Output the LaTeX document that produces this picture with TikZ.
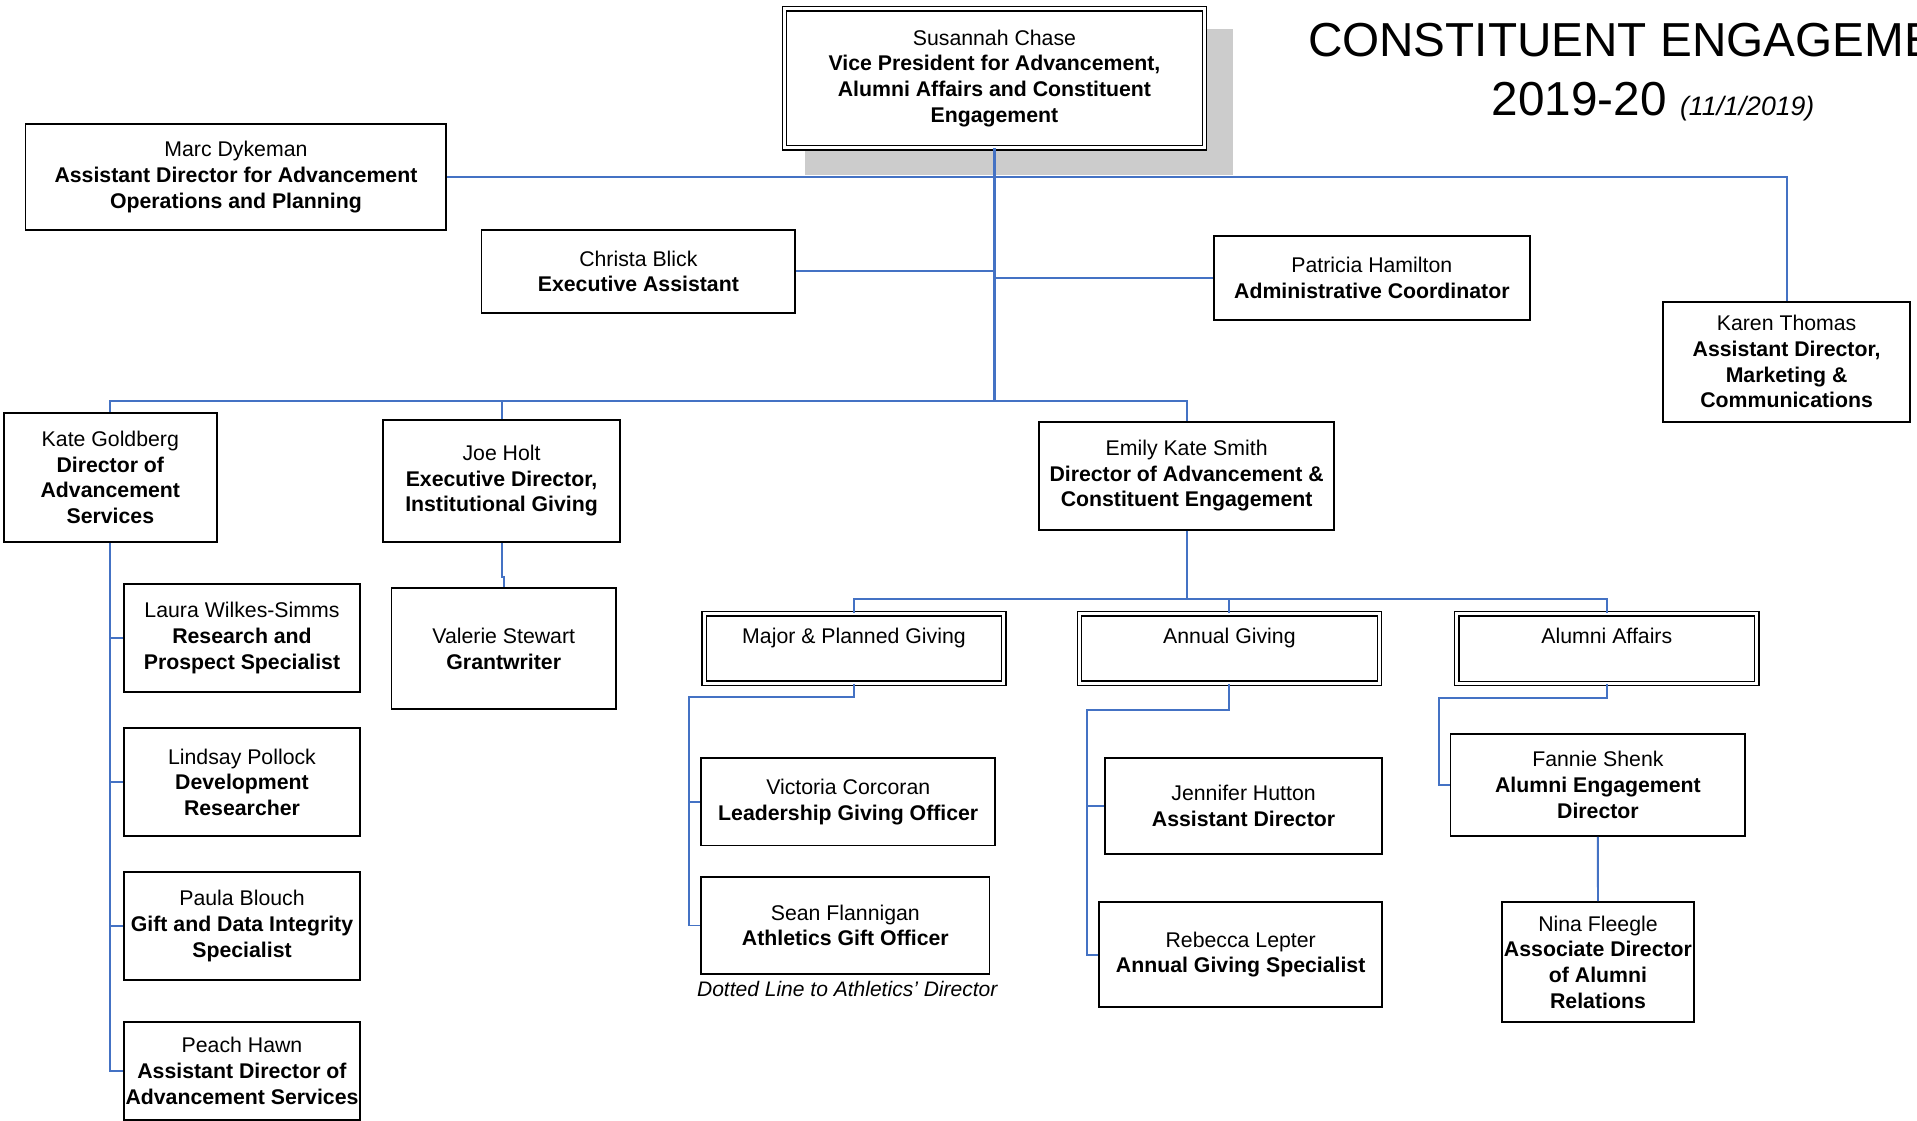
\documentclass[tikz,border=0pt]{standalone}
\usepackage{fontspec}
\setmainfont{Liberation Sans}
\usetikzlibrary{calc}
\definecolor{connblue}{RGB}{68,114,196}
\definecolor{shadowgray}{RGB}{204,204,204}
\newcommand{\orgbox}[7][box]{\node[#1, minimum width={(#5-#3)*0.5pt}, minimum height={(#6-#4)*0.5pt}] (#2) at ({(#3+#5)/2},{(#4+#6)/2}) {#7};}
\begin{document}
\begin{tikzpicture}[x=0.5pt,y=-0.5pt,
  box/.style={draw=black, line width=0.75pt, fill=white, inner sep=0pt, align=center, font=\fontsize{8.7}{10.5}\selectfont},
  dbox/.style={box, line width=0.55pt, double=white, double distance=1.2pt},
  conn/.style={draw=connblue, line width=0.8pt},
  trunk/.style={conn, line width=1.1pt},
  titlefont/.style={font=\fontsize{19.5}{22}\selectfont, inner sep=0pt},
  note/.style={font=\fontsize{8.6}{10.5}\selectfont\itshape, inner sep=0pt}
]
\useasboundingbox (0,0) rectangle (1568,916.1);
\clip (0,0) rectangle (1568,916.1);

% title
\node[titlefont, anchor=base west] (title1) at (1069.5,46.4) {CONSTITUENT ENGAGEMENT};
\node[titlefont, anchor=base west] (title2) at (1219.8,94.1) {2019-20 {\fontsize{10.9}{12}\selectfont\itshape (11/1/2019)}};

% shadow of top box
\fill[shadowgray] (658.4,24) rectangle (1008.8,143.1);

% boxes
\orgbox[dbox]{vp}{641.7}{7.3}{985.1}{120.8}{Susannah Chase\\\textbf{Vice President for Advancement,}\\\textbf{Alumni Affairs and Constituent}\\\textbf{Engagement}}
\orgbox{marc}{20.9}{101.7}{365.1}{187.8}{Marc Dykeman\\\textbf{Assistant Director for Advancement}\\\textbf{Operations and Planning}}
\orgbox{christa}{393.8}{187.8}{650.5}{256.2}{Christa Blick\\\textbf{Executive Assistant}}
\orgbox{patricia}{992.7}{193}{1251.5}{261.7}{Patricia Hamilton\\\textbf{Administrative Coordinator}}
\orgbox{karen}{1360.4}{246.8}{1562.3}{344.9}{Karen Thomas\\\textbf{Assistant Director,}\\\textbf{Marketing \&}\\\textbf{Communications}}
\orgbox{kate}{3.1}{337.7}{177.4}{443.4}{Kate Goldberg\\\textbf{Director of}\\\textbf{Advancement}\\\textbf{Services}}
\orgbox{joe}{313.5}{343.2}{507}{443.4}{Joe Holt\\\textbf{Executive Director,}\\\textbf{Institutional Giving}}
\orgbox{emily}{850.1}{344.9}{1091.1}{433.3}{Emily Kate Smith\\\textbf{Director of Advancement \&}\\\textbf{Constituent Engagement}}
\orgbox{laura}{101.2}{477.7}{294.7}{565.8}{Laura Wilkes-Simms\\\textbf{Research and}\\\textbf{Prospect Specialist}}
\orgbox{lindsay}{101.2}{595.7}{294.7}{683.8}{Lindsay Pollock\\\textbf{Development}\\\textbf{Researcher}}
\orgbox{paula}{101.2}{713.4}{294.7}{801.5}{Paula Blouch\\\textbf{Gift and Data Integrity}\\\textbf{Specialist}}
\orgbox{peach}{101.2}{835.7}{294.7}{916}{Peach Hawn\\\textbf{Assistant Director of}\\\textbf{Advancement Services}}
\orgbox{valerie}{320.2}{481}{503.9}{580}{Valerie Stewart\\\textbf{Grantwriter}}
\orgbox[dbox]{major}{575.9}{502}{821.1}{558.9}{Major \& Planned Giving\\\mbox{}}
\orgbox[dbox]{annual}{883}{502}{1128.2}{558.9}{Annual Giving\\\mbox{}}
\orgbox[dbox]{alumni}{1191.5}{502}{1437}{559}{Alumni Affairs\\\mbox{}}
\orgbox{victoria}{573.5}{619.9}{814.1}{691.6}{Victoria Corcoran\\\textbf{Leadership Giving Officer}}
\orgbox{sean}{573.5}{717.6}{809.4}{796.4}{Sean Flannigan\\\textbf{Athletics Gift Officer}}
\orgbox{jennifer}{903.7}{619.9}{1130.6}{698.4}{Jennifer Hutton\\\textbf{Assistant Director}}
\orgbox{rebecca}{899}{738}{1130.6}{823.7}{Rebecca Lepter\\\textbf{Annual Giving Specialist}}
\orgbox{fannie}{1186.4}{600.4}{1427.6}{683.8}{Fannie Shenk\\\textbf{Alumni Engagement}\\\textbf{Director}}
\orgbox{nina}{1228.5}{737.8}{1385.6}{836}{Nina Fleegle\\\textbf{Associate Director}\\\textbf{of Alumni}\\\textbf{Relations}}

\node[note] (dotted) at (693,809) {Dotted Line to Athletics' Director};

% junction points
\coordinate (bus) at (813.4,327.8);
\coordinate (dbus) at (970.6,490);
\coordinate (jv) at (411,472);
\coordinate (mjc) at (563.3,570.4);
\coordinate (agc) at (889.3,580.4);
\coordinate (aac) at (1176.7,570.7);

% connectors
\draw[trunk] (vp.south) -- (bus);
\draw[conn] (marc.east) -| (karen.north);
\draw[conn] (christa.east) -- (christa.east -| vp.south);
\draw[conn] (patricia.west) -- (patricia.west -| vp.south);
\draw[conn] (kate.north) |- (emily.north |- bus) -- (emily.north);
\draw[conn] (joe.north) -- (joe.north |- bus);

\draw[conn] (kate.south) |- (peach.west);
\draw[conn] (kate.south |- laura.west) -- (laura.west);
\draw[conn] (kate.south |- lindsay.west) -- (lindsay.west);
\draw[conn] (kate.south |- paula.west) -- (paula.west);

\draw[conn] (joe.south) |- (jv) -| (valerie.north);

\draw[conn] (emily.south) -- (dbus);
\draw[conn] (major.north) |- (alumni.north |- dbus) -- (alumni.north);
\draw[conn] (annual.north) -- (annual.north |- dbus);

\draw[conn] (major.south) |- (mjc) |- (victoria.west);
\draw[conn] (mjc) |- (sean.west);
\draw[conn] (annual.south) |- (agc) |- (jennifer.west);
\draw[conn] (agc) |- (rebecca.west);
\draw[conn] (alumni.south) |- (aac) |- (fannie.west);
\draw[conn] (fannie.south) -- (nina.north);
\end{tikzpicture}
\end{document}
